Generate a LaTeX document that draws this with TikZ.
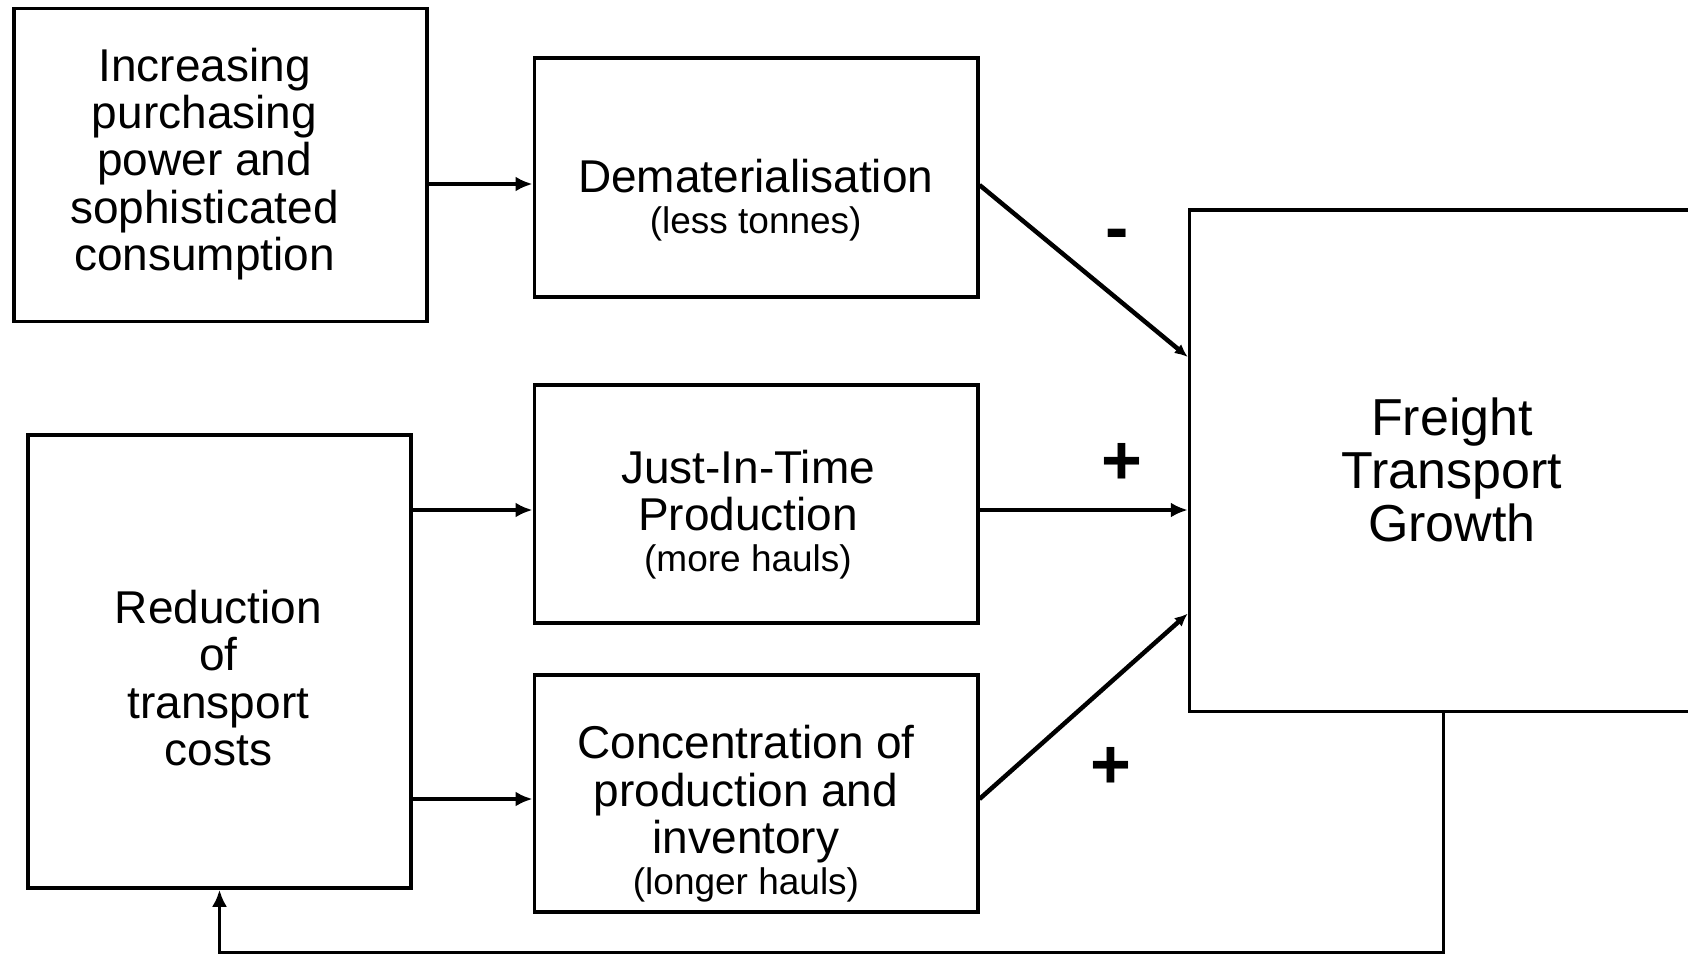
\documentclass[tikz,border=0pt]{standalone}
\usepackage{fontspec}
\setmainfont{Liberation Sans}
\usetikzlibrary{arrows.meta}
\begin{document}
\begin{tikzpicture}[x=1pt,y=-1pt,
  box/.style={draw,line width=3.5pt,inner sep=0pt},
  txt/.style={align=center,inner sep=0pt,font=\fontsize{46}{47.4}\selectfont},
  big/.style={align=center,inner sep=0pt,font=\fontsize{52}{53.3}\selectfont},
  sign/.style={inner sep=0pt,font=\fontsize{70}{70}\selectfont\bfseries},
  arr/.style={line width=3.5pt,-{Latex[length=17pt,width=15pt]}},
  darr/.style={arr,line width=4.5pt,-{Latex[length=13pt,width=11.5pt]}}]
\useasboundingbox[fill=white] (0,0) rectangle (1688,955);
% boxes
\node[box,minimum width=413pt,minimum height=313pt] (a) at (220.5,165) {};
\node[box,minimum width=443.5pt,minimum height=239pt] (b) at (756,177.5) {};
\node[box,minimum width=443.5pt,minimum height=238pt] (c) at (756,504) {};
\node[box,minimum width=443.5pt,minimum height=237pt] (d) at (756,793.5) {};
\node[box,minimum width=383pt,minimum height=453pt] (e) at (219.5,661.5) {};
\node[box,minimum width=570.5pt,minimum height=501.5pt] (f) at (1474.75,460.75) {};
% texts
\node[txt] (ta) at (204.5,164) {Increasing\\purchasing\\power and\\sophisticated\\consumption};
\node[txt] (tb) at (755.7,200) {Dematerialisation\\[-6pt]{\fontsize{37}{42}\selectfont (less tonnes)}};
\node[txt] (tc) at (748,514.6) {Just-In-Time\\Production\\[-6pt]{\fontsize{37}{42}\selectfont (more hauls)}};
\node[txt] (td) at (746,814) {Concentration of\\production and\\inventory\\[-6pt]{\fontsize{37}{42}\selectfont (longer hauls)}};
\node[txt] (te) at (218.5,678) {Reduction\\of\\transport\\costs};
\node[big] (tf) at (1452,470) {Freight\\Transport\\Growth};
% signs
\node[sign] (s1) at (1117,240) {-};
\node[sign] (s2) at (1122,464) {+};
\node[sign] (s3) at (1111,768) {+};
% connectors
\draw[arr] (a.east |- 0,184) -- (b.west |- 0,184);
\draw[arr] (e.east |- 0,510) -- (c.west |- 0,510);
\draw[arr] (e.east |- 0,799) -- (d.west |- 0,799);
\draw[darr] (b.east |- 0,185) -- (f.west |- 0,357);
\draw[arr] (c.east |- 0,510) -- (f.west |- 0,510);
\draw[darr] (d.east |- 0,799) -- (f.west |- 0,613.6);
\coordinate (fbc) at (1443.5,952.5);
\draw[arr] (f.south -| fbc) -- (fbc) -| (e.south);
\end{tikzpicture}
\end{document}
